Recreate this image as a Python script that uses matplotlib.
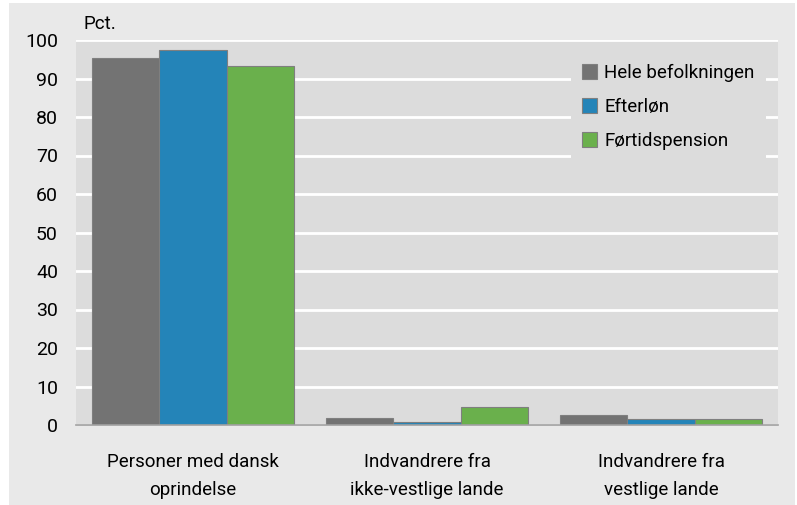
import matplotlib.pyplot as plt
import numpy as np
from matplotlib.patches import Rectangle

# Data
categories = ['Personer med dansk\noprindelse',
              'Indvandrere fra\nikke-vestlige lande',
              'Indvandrere fra\nvestlige lande']
series_names = ['Hele befolkningen', 'Efterløn', 'Førtidspension']
hele = [95.2, 1.7, 2.6]
efterlon = [97.3, 0.7, 1.5]
fortid = [93.2, 4.6, 1.5]
yticks = [0, 10, 20, 30, 40, 50, 60, 70, 80, 90, 100]

colors = ['#737373', '#2484b8', '#6ab04c']

plt.rcParams['font.family'] = ['Roboto', 'DejaVu Sans']

fig = plt.figure(figsize=(7.97, 5.05), dpi=100, facecolor='white')
fig.patches.append(Rectangle((9 / 797, 0), 786 / 797, 502 / 505,
                             transform=fig.transFigure, facecolor='#e9e9e9',
                             edgecolor='none', zorder=-10))

ax = fig.add_axes([76 / 797, 1 - 425 / 505, 702 / 797, 385 / 505])
ax.set_facecolor('#dcdcdc')

x = np.arange(len(categories))
w = 0.287
for i, (vals, name) in enumerate(zip([hele, efterlon, fortid], series_names)):
    ax.bar(x + (i - 1) * w, vals, w, color=colors[i], edgecolor='#7f7f7f',
           linewidth=0.8, label=name, zorder=3)

ax.set_xlim(-0.5, 2.5)
ax.set_ylim(0, 100)
ax.set_yticks(yticks)
ax.set_xticks(x)
ax.set_xticklabels(categories, fontsize=13.5, linespacing=1.75)
ax.tick_params(axis='y', length=0, pad=13, labelsize=14)
ax.tick_params(axis='x', length=0, pad=20)
ax.grid(axis='y', color='white', linewidth=2, zorder=1)
ax.set_axisbelow(True)
for s in ['top', 'right', 'left']:
    ax.spines[s].set_visible(False)
ax.spines['bottom'].set_color('#a0a0a0')
ax.spines['bottom'].set_linewidth(1.2)
ax.spines['bottom'].set_zorder(4)

ax.text(-0.47, 101.8, 'Pct.', fontsize=13.5, ha='left', va='bottom')

leg = ax.legend(loc='upper right', bbox_to_anchor=(0.983, 0.967), fontsize=13.5,
                frameon=True, fancybox=False, handlelength=0.8, handleheight=0.8,
                handletextpad=0.4, labelspacing=0.85, borderpad=0.6,
                borderaxespad=0)
leg.get_frame().set_facecolor('#dcdcdc')
leg.get_frame().set_edgecolor('none')
leg.get_frame().set_alpha(1)

fig.savefig('out.png', dpi=100, facecolor=fig.get_facecolor())
